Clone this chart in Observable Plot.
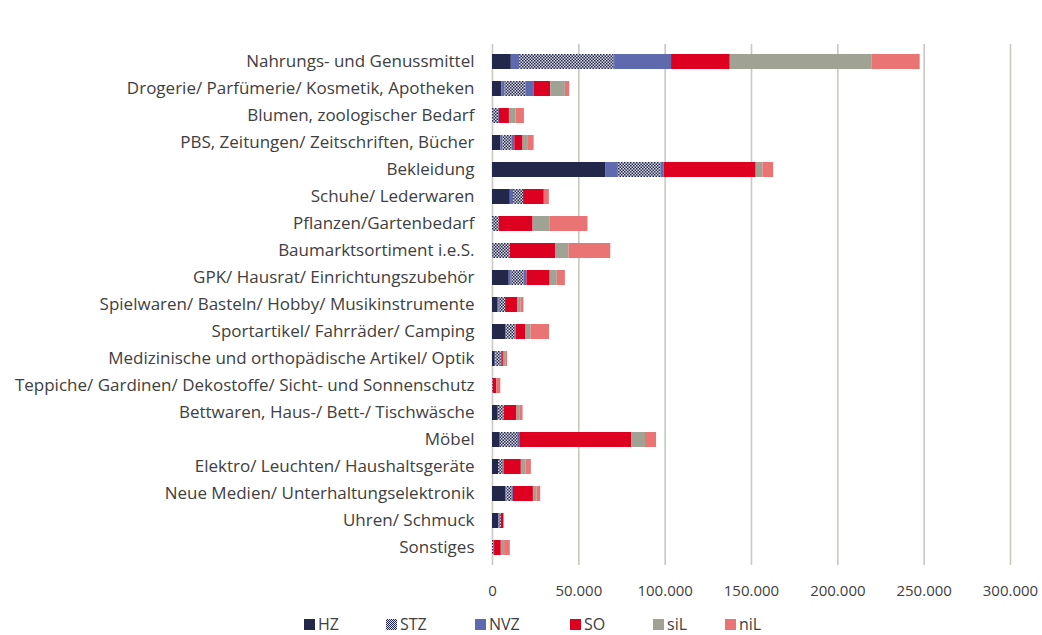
<!DOCTYPE html>
<html><head><meta charset="utf-8">
<script src="https://cdn.jsdelivr.net/npm/d3@7"></script>
<script src="https://cdn.jsdelivr.net/npm/@observablehq/plot@0.6"></script>
<style>
body{margin:0;background:#fff;font-family:"Open Sans",sans-serif;}
#legend{position:relative;height:30px;font-size:16px;color:#404040;}
#legend .it{position:absolute;top:8px;display:flex;align-items:center;gap:3px;}
#legend .sw{width:11px;height:11px;display:inline-block;}
</style></head>
<body>
<div id="chart"></div>
<div id="legend"></div>
<script>
const categories = [
  "Nahrungs- und Genussmittel",
  "Drogerie/ Parfümerie/ Kosmetik, Apotheken",
  "Blumen, zoologischer Bedarf",
  "PBS, Zeitungen/ Zeitschriften, Bücher",
  "Bekleidung",
  "Schuhe/ Lederwaren",
  "Pflanzen/Gartenbedarf",
  "Baumarktsortiment i.e.S.",
  "GPK/ Hausrat/ Einrichtungszubehör",
  "Spielwaren/ Basteln/ Hobby/ Musikinstrumente",
  "Sportartikel/ Fahrräder/ Camping",
  "Medizinische und orthopädische Artikel/ Optik",
  "Teppiche/ Gardinen/ Dekostoffe/ Sicht- und Sonnenschutz",
  "Bettwaren, Haus-/ Bett-/ Tischwäsche",
  "Möbel",
  "Elektro/ Leuchten/ Haushaltsgeräte",
  "Neue Medien/ Unterhaltungselektronik",
  "Uhren/ Schmuck",
  "Sonstiges"
];
// values in m²
const HZ   = [10900, 5400,    0, 4800, 65500, 10300,    0,   300, 9700, 2900, 7600, 1600,   0, 2900, 4500, 3500, 7800, 3500,    0];
const NVZa = [ 4800, 1900,    0, 1200,  7400,  1900,    0,     0, 1200, 1000,  600,  400,   0,  600,    0,    0,  600,  400,    0];
const STZ  = [55000,12000, 3500, 5400, 24600,  5800, 3900, 10000, 7400, 3700, 5200, 3100, 400, 3300, 10100, 2900, 3100, 1200, 1200];
const NVZ  = [33000, 4700,  500, 1500,  1900,     0,    0,     0, 1700,    0,  400,  800,   0,    0,  1200,  400,  600,    0,    0];
const SO   = [34000, 9700, 5800, 4800, 53300, 12000,19600, 26400,13400, 7000, 5600,  800,2100, 7400, 64900, 9900,11600, 1400, 3900];
const siL  = [82000, 8500, 3900, 2700,  3900,     0, 9700,  7600, 4100, 1900, 2900, 1000,   0, 1900,  7900, 2700, 2100,    0, 1900];
const niL  = [28000, 2500, 4800, 3700,  6200,  2900,22100, 24200, 4700, 1700,10700, 1000,2300, 1600,  6400, 3100, 2100,  400, 3300];
const xTicks = [0, 50000, 100000, 150000, 200000, 250000, 300000];

const seriesKeys   = ["HZ", "NVZa", "STZ", "NVZ", "SO", "siL", "niL"];
const seriesValues = [HZ, NVZa, STZ, NVZ, SO, siL, niL];
const seriesColors = ["#23284a", "#5f69ae", "url(#stzPattern)", "#5f69ae", "#de0020", "#a0a393", "#ea7373"];
const legendKeys   = ["HZ", "STZ", "NVZ", "SO", "siL", "niL"];

const data = [];
categories.forEach((c, i) => {
  seriesKeys.forEach((s, j) => data.push({cat: c, series: s, value: seriesValues[j][i]}));
});

const de = d3.formatLocale({decimal: ",", thousands: ".", grouping: [3], currency: ["", "€"]});
const fmt = de.format(",");

const plot = Plot.plot({
  width: 1042,
  height: 605,
  marginLeft: 492,
  marginRight: 32,
  marginTop: 44,
  marginBottom: 40,
  style: {fontFamily: "'Open Sans', sans-serif", fontSize: "15px", color: "#404040", background: "#fff"},
  x: {domain: [0, 300000], ticks: xTicks, tickFormat: fmt, tickSize: 0, tickPadding: 20, label: null},
  y: {domain: categories, paddingInner: 0.45, paddingOuter: 0.23, align: 0.5, tickSize: 0, tickPadding: 18, label: null},
  color: {domain: seriesKeys, range: seriesColors},
  marks: [
    Plot.gridX(xTicks, {stroke: "#c9c9c1", strokeOpacity: 1, strokeWidth: 1.6}),
    Plot.barX(data, Plot.stackX({y: "cat", x: "value", z: "series", fill: "series", order: null})),
    Plot.axisY({tickSize: 0, tickPadding: 18, fontSize: "17px", label: null})
  ]
});

// STZ pattern
const ns = "http://www.w3.org/2000/svg";
const defs = document.createElementNS(ns, "defs");
defs.innerHTML = `<pattern id="stzPattern" patternUnits="userSpaceOnUse" width="3" height="3">
  <rect width="3" height="3" fill="#dcdde6"/>
  <rect x="0" y="0" width="1.5" height="1.5" fill="#23284a"/>
  <rect x="1.5" y="1.5" width="1.5" height="1.5" fill="#23284a"/>
</pattern>`;
plot.insertBefore(defs, plot.firstChild);
document.getElementById("chart").appendChild(plot);

const legendColors = {HZ: "#23284a", STZ: null, NVZ: "#5f69ae", SO: "#de0020", siL: "#a0a393", niL: "#ea7373"};
const legendLeft = [304, 386, 475, 570, 653, 725];
const lg = document.getElementById("legend");
legendKeys.forEach((k, i) => {
  const it = document.createElement("span"); it.className = "it";
  it.style.left = legendLeft[i] + "px";
  const sw = document.createElement("span"); sw.className = "sw";
  if (legendColors[k]) sw.style.background = legendColors[k];
  else sw.style.background = "repeating-conic-gradient(#23284a 0 25%, #dcdde6 0 50%) 0 0/2px 2px";
  const tx = document.createElement("span"); tx.textContent = k;
  it.appendChild(sw); it.appendChild(tx); lg.appendChild(it);
});
</script>
</body></html>
